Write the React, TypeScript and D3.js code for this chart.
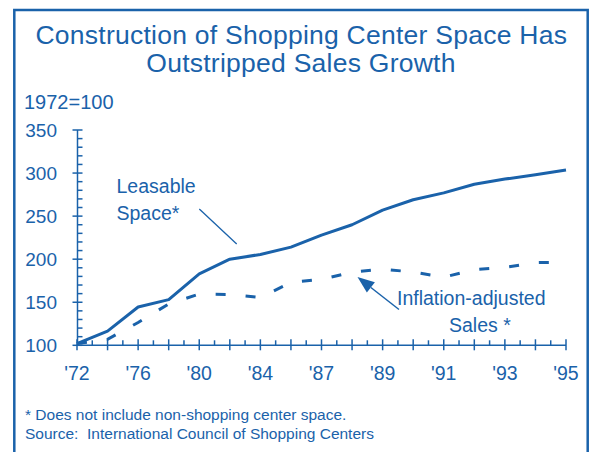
import React from "react";
import * as d3 from "d3";

const years = ["'72", "'74", "'76", "'78", "'80", "'82", "'84", "'86", "'87", "'88", "'89", "'90", "'91", "'92", "'93", "'94", "'95"];
const leasableSpace = [102, 116.5, 144.5, 153, 183, 200, 205.5, 214, 228, 240, 257, 269, 277, 287, 293, 298, 303.5];
const salesAdjusted = [102, 107, 126.5, 148, 159.5, 159, 155.5, 173, 176.5, 185, 188.5, 185, 179, 188, 190.5, 196, 196.5];
const yTicks = [100, 150, 200, 250, 300, 350];
const labelIdx = [0, 2, 4, 6, 8, 10, 12, 14, 16];

const BLUE = "#1a62aa";
const FONT = "'Liberation Sans', Arial, Helvetica, sans-serif";

export default function App() {
  const x = d3.scalePoint<string>().domain(years).range([77, 566]);
  const y = d3.scaleLinear().domain([100, 350]).range([345.3, 130]);
  const line = d3
    .line<number>()
    .x((_, i) => x(years[i]) as number)
    .y((d) => y(d));

  const minorY = d3.range(110, 350, 10).filter((v) => v % 50 !== 0);
  const xs = years.map((c) => x(c) as number);
  const minorX = xs.slice(0, -1).map((v, i) => (v + xs[i + 1]) / 2);
  const axX = 77.5;
  const axY = y(100);

  // arrow geometry (annotation)
  const tip: [number, number] = [357.5, 277];
  const tail: [number, number] = [399, 309.5];
  const ang = Math.atan2(tail[1] - tip[1], tail[0] - tip[0]);
  const hl = 17, hw = 6.5;
  const bx = tip[0] + Math.cos(ang) * hl, by = tip[1] + Math.sin(ang) * hl;
  const head = [
    tip,
    [bx - Math.sin(ang) * hw, by + Math.cos(ang) * hw],
    [bx + Math.sin(ang) * hw, by - Math.cos(ang) * hw],
  ];

  return (
    <svg
      width={591}
      height={452}
      style={{ position: "absolute", left: 0, top: 0, background: "#fff" }}
      fontFamily={FONT}
    >
      <rect x={14.3} y={10} width={573.4} height={470} fill="none" stroke={BLUE} strokeWidth={2.5} />
      <g fill={BLUE} textAnchor="middle" fontSize={26.5} letterSpacing={0.25}>
        <text x={301.3} y={43.5}>Construction of Shopping Center Space Has</text>
        <text x={301} y={72}>Outstripped Sales Growth</text>
      </g>
      <text x={24} y={108.5} fill={BLUE} fontSize={20}>1972=100</text>

      {/* y axis */}
      <g stroke={BLUE} strokeWidth={1.5}>
        <line x1={axX} x2={axX} y1={y(350)} y2={axY} />
        {yTicks.map((t) => (
          <line key={t} x1={axX - 5} x2={axX + 5} y1={y(t)} y2={y(t)} />
        ))}
        {minorY.map((t) => (
          <line key={t} x1={axX} x2={axX + 5} y1={y(t)} y2={y(t)} />
        ))}
      </g>
      <g fill={BLUE} fontSize={19} textAnchor="end">
        {yTicks.map((t) => (
          <text key={t} x={57} y={y(t)} dy="0.35em">{t}</text>
        ))}
      </g>

      {/* x axis */}
      <g stroke={BLUE} strokeWidth={1.5}>
        <line x1={xs[0]} x2={xs[xs.length - 1]} y1={axY} y2={axY} />
        {xs.map((v, i) => (
          <line key={i} x1={v} x2={v} y1={axY - 6} y2={axY + 5} />
        ))}
        {minorX.map((v, i) => (
          <line key={i} x1={v} x2={v} y1={axY - 5} y2={axY} />
        ))}
      </g>
      <g fill={BLUE} fontSize={19.5} textAnchor="middle">
        {labelIdx.map((i) => (
          <text key={i} x={xs[i]} y={380}>{years[i]}</text>
        ))}
      </g>

      {/* series */}
      <path d={line(leasableSpace) as string} fill="none" stroke={BLUE} strokeWidth={3} strokeLinejoin="round" />
      <path d={line(salesAdjusted) as string} fill="none" stroke={BLUE} strokeWidth={3} strokeDasharray="10 20" />

      {/* annotations */}
      <g fill={BLUE} fontSize={19.5}>
        <text x={116.5} y={193.3}>Leasable</text>
        <text x={116.5} y={220}>Space*</text>
        <text x={397} y={305}>Inflation-adjusted</text>
        <text x={449} y={331.7}>Sales *</text>
      </g>
      <line x1={199.3} y1={209} x2={236.7} y2={244} stroke={BLUE} strokeWidth={1.3} />
      <line x1={tail[0]} y1={tail[1]} x2={bx} y2={by} stroke={BLUE} strokeWidth={1.5} />
      <polygon points={head.map((p) => p.join(",")).join(" ")} fill={BLUE} />

      {/* footnotes */}
      <g fill={BLUE} fontSize={15.5}>
        <text x={25} y={419.5}>* Does not include non-shopping center space.</text>
        <text x={25} y={438.7} style={{ whiteSpace: "pre" }}>Source:  International Council of Shopping Centers</text>
      </g>
    </svg>
  );
}
